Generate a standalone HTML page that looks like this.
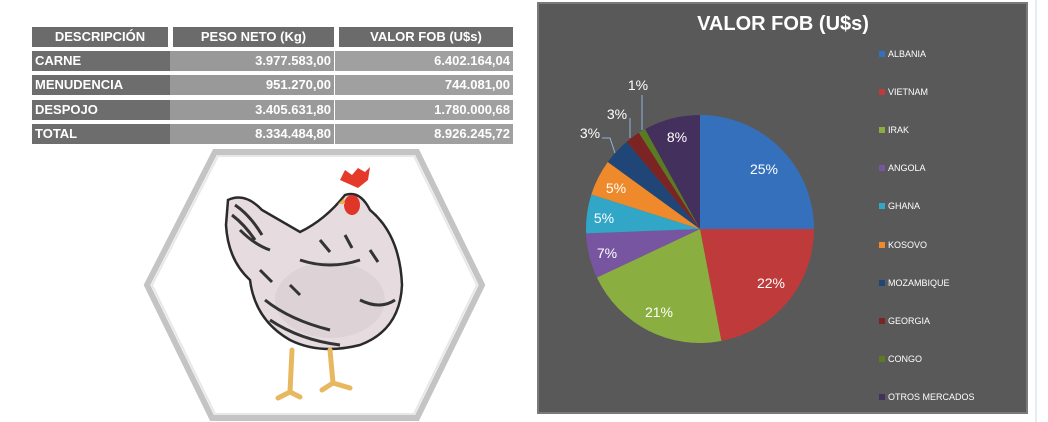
<!DOCTYPE html>
<html><head><meta charset="utf-8"><style>
html,body{margin:0;padding:0;background:#fff;width:1048px;height:422px;overflow:hidden;font-family:"Liberation Sans",sans-serif}
.c{position:absolute;height:20px;line-height:20px;color:#fff;font-weight:bold;font-size:13px;box-sizing:border-box;padding:0 3px}
</style></head><body>
<div class="c" style="left:32px;top:27px;width:136px;background:#6b6b6b;text-align:center">DESCRIPCIÓN</div>
<div class="c" style="left:173px;top:27px;width:161px;background:#6b6b6b;text-align:center">PESO NETO (Kg)</div>
<div class="c" style="left:339px;top:27px;width:174px;background:#6b6b6b;text-align:center">VALOR FOB (U$s)</div>

<div class="c" style="left:32px;top:51px;width:138px;background:#6d6d6d">CARNE</div>
<div class="c" style="left:170px;top:51px;width:164px;background:#999;text-align:right">3.977.583,00</div>
<div class="c" style="left:335px;top:51px;width:178px;background:#a0a0a0;text-align:right">6.402.164,04</div>

<div class="c" style="left:32px;top:75px;width:138px;background:#6d6d6d">MENUDENCIA</div>
<div class="c" style="left:170px;top:75px;width:164px;background:#999;text-align:right">951.270,00</div>
<div class="c" style="left:335px;top:75px;width:178px;background:#a0a0a0;text-align:right">744.081,00</div>

<div class="c" style="left:32px;top:100px;width:138px;background:#6d6d6d">DESPOJO</div>
<div class="c" style="left:170px;top:100px;width:164px;background:#999;text-align:right">3.405.631,80</div>
<div class="c" style="left:335px;top:100px;width:178px;background:#a0a0a0;text-align:right">1.780.000,68</div>

<div class="c" style="left:32px;top:124px;width:138px;background:#6d6d6d">TOTAL</div>
<div class="c" style="left:170px;top:124px;width:164px;background:#999;text-align:right">8.334.484,80</div>
<div class="c" style="left:335px;top:124px;width:178px;background:#a0a0a0;text-align:right">8.926.245,72</div>

<svg style="position:absolute;left:0;top:0" width="1048" height="422">
<polygon points="215,152 417,152 482,285 417,418 212,418 147,285" fill="#fff" stroke="#c4c4c4" stroke-width="6"/>
<polygon points="218,156 414,156 477,285 414,414 215,414 152,285" fill="#fff" stroke="#e8e8e8" stroke-width="2"/>
<!-- chicken -->
<path d="M228,200 Q245,192 262,210 L300,232 Q325,220 345,195 Q360,190 370,210 Q400,235 402,285 Q400,330 360,345 Q320,355 290,340 Q255,320 250,280 Q228,260 226,225 Z" fill="#e6dcdf" stroke="#2a2a2a" stroke-width="2.5"/>
<ellipse cx="330" cy="300" rx="55" ry="38" fill="#d8cdd1" opacity=".7"/>
<path d="M235,205 Q250,215 262,235 M240,230 Q255,245 270,250 M232,215 Q245,225 255,240 M265,300 Q290,320 330,330 M300,260 Q330,270 360,260 M270,320 Q300,340 340,345 M360,300 Q380,310 395,300 M320,240 L330,252 M345,235 L352,248 M290,285 L300,295 M370,250 L378,262 M260,270 L272,282" stroke="#333" stroke-width="3" fill="none"/>
<path d="M340,180 L345,170 L352,175 L358,168 L365,172 L370,167 L368,180 L358,188 Z" fill="#e53a2a"/>
<ellipse cx="352" cy="205" rx="8" ry="10" fill="#e0362a"/>
<path d="M344,198 L338,204 L345,204 Z" fill="#e8b050"/>
<path d="M292,350 L290,392 L278,398 M290,392 L300,397 M330,350 L333,383 L322,390 M333,383 L350,388" stroke="#e8b860" stroke-width="5" fill="none" stroke-linecap="round"/>
</svg>

<div style="position:absolute;left:1035px;top:0;width:2px;height:422px;background:#e4edf7"></div>
<svg style="position:absolute;left:0;top:0" width="1048" height="422">
<rect x="538" y="3" width="489" height="410" fill="#595959" stroke="#7a7a7a" stroke-width="2"/>
<text x="783" y="30" fill="#fff" font-size="20" font-weight="bold" text-anchor="middle" font-family="Liberation Sans">VALOR FOB (U$s)</text>
<g stroke="none">
<path d="M700,229 L700,115 A114,114 0 0 1 814,229 Z" fill="#3570bc"/>
<path d="M700,229 L814,229 A114,114 0 0 1 721.4,341 Z" fill="#bf3a3a"/>
<path d="M700,229 L721.4,341 A114,114 0 0 1 596.9,277.5 Z" fill="#8bae40"/>
<path d="M700,229 L596.9,277.5 A114,114 0 0 1 586.1,233.4 Z" fill="#7855a0"/>
<path d="M700,229 L586.1,233.4 A114,114 0 0 1 591.3,194.5 Z" fill="#32a6c6"/>
<path d="M700,229 L591.3,194.5 A114,114 0 0 1 607.8,162 Z" fill="#ee8a2b"/>
<path d="M700,229 L607.8,162 A114,114 0 0 1 626.7,141.7 Z" fill="#1f4677"/>
<path d="M700,229 L626.7,141.7 A114,114 0 0 1 638.9,132.7 Z" fill="#7c2323"/>
<path d="M700,229 L638.9,132.7 A114,114 0 0 1 645.1,129.1 Z" fill="#5b7b23"/>
<path d="M700,229 L645.1,129.1 A114,114 0 0 1 700,115 Z" fill="#44305c"/>
</g>
<g stroke="#8fb4d8" stroke-width="1" fill="none">
<path d="M602,138 L610,138 L615,153"/><path d="M630,118 L630,138"/><path d="M642,95 L642,130"/>
</g>
<g fill="#fff" font-size="14" font-family="Liberation Sans" text-anchor="middle">
<text x="764" y="174">25%</text><text x="771" y="288">22%</text><text x="659" y="317">21%</text>
<text x="607" y="258">7%</text><text x="604" y="223">5%</text><text x="616" y="193">5%</text>
<text x="590" y="138">3%</text><text x="617" y="119">3%</text><text x="638" y="90">1%</text><text x="677" y="142">8%</text>
</g>
<g font-size="9" fill="#fff" font-family="Liberation Sans">
<rect x="879" y="51" width="6" height="6" fill="#3570bc"/><text x="888" y="57">ALBANIA</text>
<rect x="879" y="89" width="6" height="6" fill="#bf3a3a"/><text x="888" y="95">VIETNAM</text>
<rect x="879" y="127" width="6" height="6" fill="#8bae40"/><text x="888" y="133">IRAK</text>
<rect x="879" y="165" width="6" height="6" fill="#7855a0"/><text x="888" y="171">ANGOLA</text>
<rect x="879" y="203" width="6" height="6" fill="#32a6c6"/><text x="888" y="209">GHANA</text>
<rect x="879" y="242" width="6" height="6" fill="#ee8a2b"/><text x="888" y="248">KOSOVO</text>
<rect x="879" y="280" width="6" height="6" fill="#1f4677"/><text x="888" y="286">MOZAMBIQUE</text>
<rect x="879" y="318" width="6" height="6" fill="#7c2323"/><text x="888" y="324">GEORGIA</text>
<rect x="879" y="356" width="6" height="6" fill="#5b7b23"/><text x="888" y="362">CONGO</text>
<rect x="879" y="394" width="6" height="6" fill="#44305c"/><text x="888" y="400">OTROS MERCADOS</text>
</g>
</svg>
</body></html>
